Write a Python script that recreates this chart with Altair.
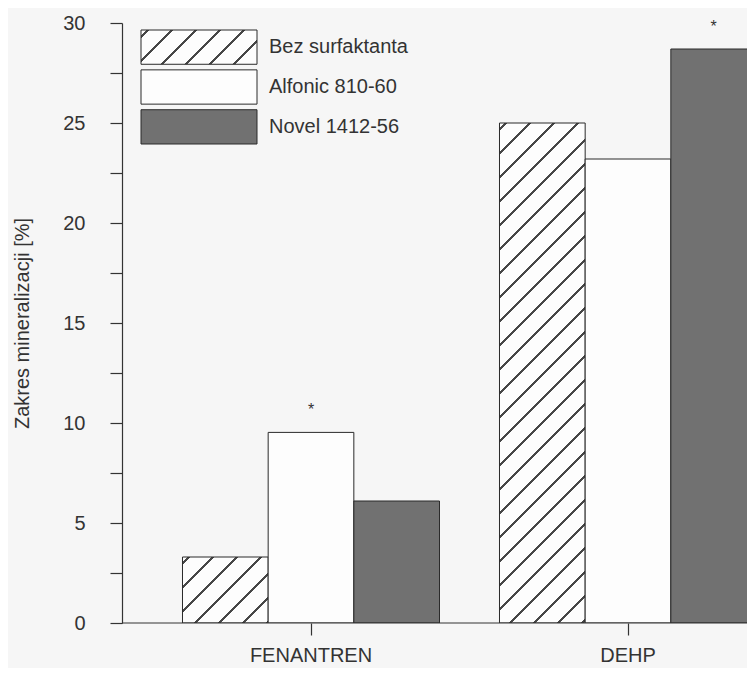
import altair as alt
import pandas as pd

# ---------------- data ----------------
categories = ["FENANTREN", "DEHP"]
series = ["Bez surfaktanta", "Alfonic 810-60", "Novel 1412-56"]
fenantren_values = [3.3, 9.53, 6.1]
dehp_values = [25.0, 23.2, 28.7]
fenantren_marks = ["", "*", ""]
dehp_marks = ["", "", "*"]
y_tick_values = [0, 2.5, 5, 7.5, 10, 12.5, 15, 17.5, 20, 22.5, 25, 27.5, 30]
y_title = "Zakres mineralizacji [%]"

rows = []
for cat, vals, marks in [("FENANTREN", fenantren_values, fenantren_marks),
                         ("DEHP", dehp_values, dehp_marks)]:
    for s, v, m in zip(series, vals, marks):
        rows.append({"cat": cat, "series": s, "value": v, "mark": m})
df = pd.DataFrame(rows)
legend_df = pd.DataFrame({"series": series})

# ---------------- styling ----------------
PLOT_W, PLOT_H = 625, 600
Y_MAX = 30
FONT = "Liberation Sans"
INK = "#333333"
BG = "#f6f6f6"
WHITE = "#fdfdfd"
CHECK = "#717171"
BAR_W = 317 / 3.7


def hatch(w, h, spacing=24.0, lw=3.0, line="#474747", bg=WHITE, phase=7.0):
    """Diagonal '/' hatching as a linear gradient with hard stops."""
    L = w + h
    k = (1 / h + 1 / w) / (1 / h ** 2 + 1 / w ** 2)
    x2, y2 = k / h, k / w
    stops = [{"offset": 0, "color": bg}]
    c = phase
    while c < L:
        a = round(max(0.0, (c - lw / 2) / L), 5)
        b = round(min(1.0, (c + lw / 2) / L), 5)
        stops += [{"offset": a, "color": bg}, {"offset": a, "color": line},
                  {"offset": b, "color": line}, {"offset": b, "color": bg}]
        c += spacing
    stops.append({"offset": 1, "color": bg})
    return {"gradient": "linear", "x1": 0, "y1": 0, "x2": x2, "y2": y2, "stops": stops}


px_per_unit = PLOT_H / Y_MAX
hatch_fen = hatch(BAR_W, fenantren_values[0] * px_per_unit)
hatch_dehp = hatch(BAR_W, dehp_values[0] * px_per_unit)
hatch_legend = hatch(116, 34)

bar_fill = {
    "condition": [
        {"test": f"datum.series === '{series[0]}' && datum.cat === 'FENANTREN'", "value": hatch_fen},
        {"test": f"datum.series === '{series[0]}' && datum.cat === 'DEHP'", "value": hatch_dehp},
        {"test": f"datum.series === '{series[2]}'", "value": CHECK},
    ],
    "value": WHITE,
}
legend_fill = {
    "condition": [
        {"test": f"datum.series === '{series[0]}'", "value": hatch_legend},
        {"test": f"datum.series === '{series[2]}'", "value": CHECK},
    ],
    "value": WHITE,
}

x_scale = alt.Scale(domain=categories, range=[30.5, 664.5], paddingInner=0, paddingOuter=0)
x_off_scale = alt.Scale(domain=series, paddingInner=0, paddingOuter=0.35)
y_scale = alt.Scale(domain=[0, Y_MAX], nice=False, zero=True)

x_axis = alt.Axis(title=None, domain=False, tickSize=12, tickColor=INK, tickWidth=1.2,
                  labelPadding=10, labelFontSize=20, labelFont=FONT, labelColor=INK,
                  labelAngle=0, labelOverlap=False)
y_axis = alt.Axis(values=y_tick_values,
                  labelExpr="datum.value % 5 === 0 ? datum.label : ''",
                  labelOverlap=False, labelFlush=False, labelBound=False,
                  tickSize=12, tickColor=INK, tickWidth=1.2,
                  domainColor=INK, domainWidth=1.2, grid=False,
                  labelPadding=25, labelFontSize=20, labelFont=FONT, labelColor=INK,
                  titleFontSize=20, titleFont=FONT, titleFontWeight="normal",
                  titleColor=INK, titlePadding=30)

bars = alt.Chart(df).mark_bar(stroke="#2a2a2a", strokeWidth=1, clip=True).encode(
    x=alt.X("cat:N", scale=x_scale, axis=x_axis, sort=categories),
    xOffset=alt.XOffset("series:N", scale=x_off_scale, sort=series),
    y=alt.Y("value:Q", scale=y_scale, axis=y_axis, title=y_title),
    fill=bar_fill,
)

stars = alt.Chart(df).transform_filter("datum.mark !== ''").mark_text(
    fontSize=16, font=FONT, color=INK, baseline="alphabetic", dy=-17
).encode(
    x=alt.X("cat:N", scale=x_scale, sort=categories),
    xOffset=alt.XOffset("series:N", scale=x_off_scale, sort=series),
    y=alt.Y("value:Q", scale=y_scale),
    text="mark:N",
)

baseline = alt.Chart(pd.DataFrame({"v": [0]})).mark_rule(color=INK, strokeWidth=1.2).encode(
    y=alt.Y("v:Q", scale=y_scale)
)

legend_y = alt.Y("series:N", sort=series, axis=None,
                 scale=alt.Scale(domain=series, range=[7, 121], paddingInner=0.14, paddingOuter=0))

legend_boxes = alt.Chart(legend_df).mark_rect(stroke="#2a2a2a", strokeWidth=1).encode(
    x=alt.value(19), x2=alt.value(135), y=legend_y, fill=legend_fill,
)
legend_text = alt.Chart(legend_df).mark_text(
    align="left", baseline="middle", fontSize=20, font=FONT, color=INK
).encode(x=alt.value(147), y=legend_y, text="series:N")

main = alt.layer(bars, stars, baseline)
legend = alt.layer(legend_boxes, legend_text)

chart = alt.layer(main, legend).resolve_scale(y="independent").properties(
    width=PLOT_W, height=PLOT_H,
    autosize=alt.AutoSizeParams(type="none"),
    padding={"left": 114, "top": 15, "right": 0, "bottom": 45},
    background=BG,
).configure_view(stroke=None)

chart.save("out.html", embed_options={"renderer": "svg", "actions": False})
